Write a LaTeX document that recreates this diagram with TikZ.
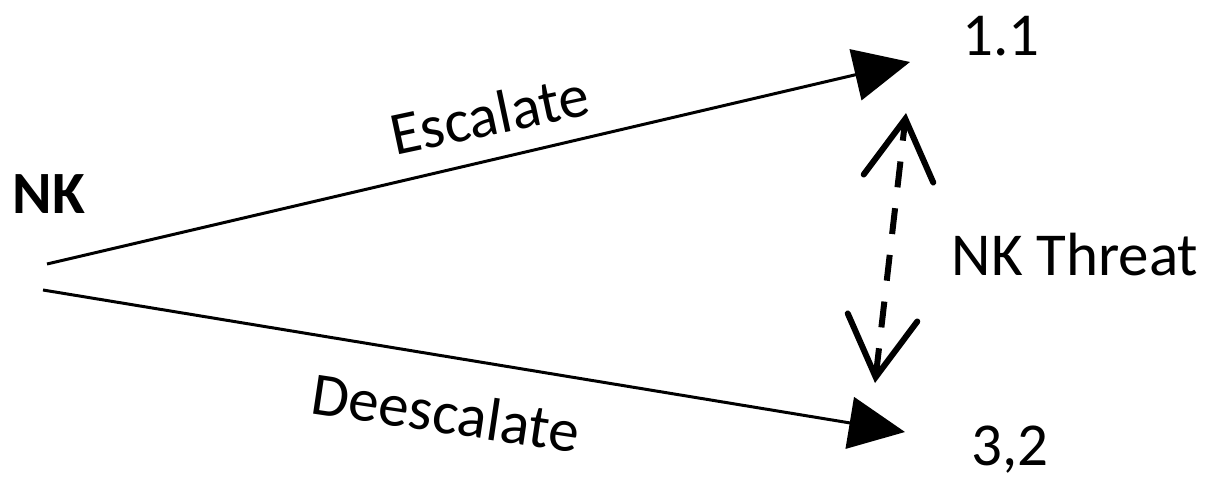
\documentclass[tikz,border=0pt]{standalone}
\usepackage{fontspec}
\setmainfont{Carlito}
\usetikzlibrary{arrows.meta}
\begin{document}
\begin{tikzpicture}[x=1pt,y=-1pt,
  lbl/.style={font=\fontsize{61}{61}\selectfont, inner sep=0pt, anchor=base},
  move/.style={line width=3pt, -{Triangle[length=56pt,width=52pt]}},
  threat/.style={line width=6pt, dash pattern=on 26pt off 21pt,
    {Straight Barb[length=60pt,width=70pt,line cap=round]}-{Straight Barb[length=60pt,width=70pt,line cap=round]}}]
  \useasboundingbox (0,0) rectangle (1215,484);

  % player and outcomes
  \node[lbl, font=\fontsize{60}{60}\selectfont\bfseries] (nk) at (49,213) {NK};
  \node[lbl] (hi) at (1001,56) {1.1};
  \node[lbl] (lo) at (1010,465) {3,2};
  \node[lbl] (threat) at (1075,275) {NK Threat};

  % branch end points
  \coordinate (escA) at (47,264);
  \coordinate (escB) at (910,62);
  \coordinate (desA) at (43,290);
  \coordinate (desB) at (905,432);
  \coordinate (thTop) at (906,113);
  \coordinate (thBot) at (875,383);

  % branches
  \draw[move] (escA) -- (escB);
  \draw[move] (desA) -- (desB);
  \node[lbl, rotate=12] (esc) at (494,135) {Escalate};
  \node[lbl, rotate=-8.5] (des) at (443,433) {Deescalate};

  % threat between the outcomes
  \draw[threat] (thBot) -- (thTop);
\end{tikzpicture}
\end{document}
